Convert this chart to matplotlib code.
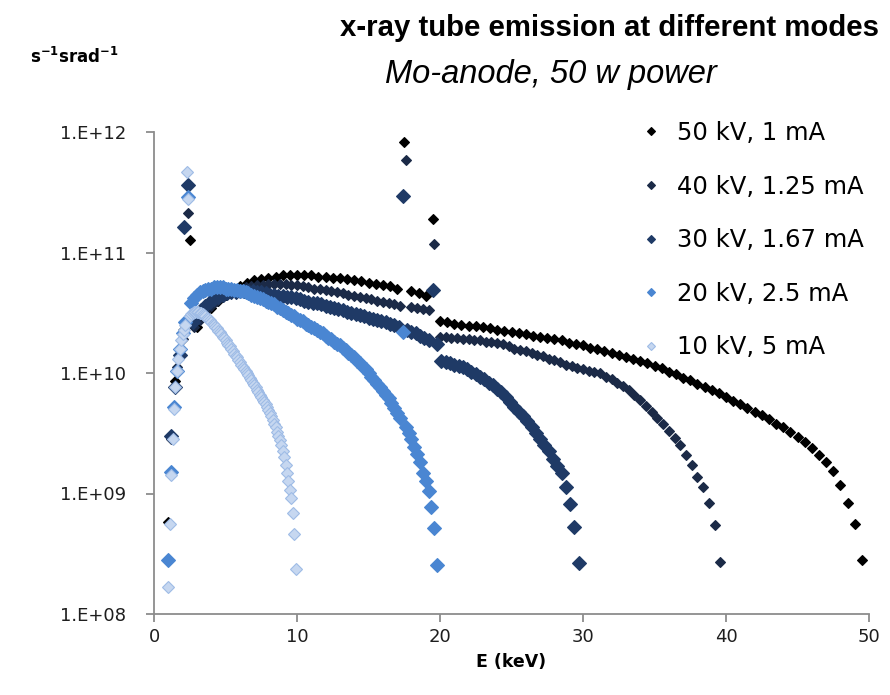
import numpy as np
import matplotlib
matplotlib.use("Agg")
import matplotlib.pyplot as plt
from matplotlib.ticker import NullLocator

## series: energy grid start/step (keV) and log10 intensity
labels = ["50 kV, 1 mA", "40 kV, 1.25 mA", "30 kV, 1.67 mA", "20 kV, 2.5 mA", "10 kV, 5 mA"]
e_start = [1.0, 1.2, 1.2, 1.0, 1.0]
e_step = [0.5, 0.4, 0.3, 0.2, 0.1]

log_i_50 = [8.76, 9.93, 10.36, 11.10, 10.38, 10.47, 10.54, 10.60, 10.65, 10.69,
            10.72, 10.75, 10.77, 10.78, 10.79, 10.80, 10.81, 10.81, 10.81, 10.81,
            10.81, 10.80, 10.80, 10.79, 10.79, 10.78, 10.77, 10.76, 10.75, 10.74,
            10.73, 10.72, 10.70, 11.92, 10.68, 10.66, 10.64, 11.28,
            10.43, 10.42, 10.41, 10.40, 10.39, 10.39, 10.38, 10.37, 10.36, 10.35,
            10.34, 10.33, 10.32, 10.31, 10.30, 10.29, 10.28, 10.27, 10.25, 10.24,
            10.23, 10.21, 10.20, 10.18, 10.17, 10.15, 10.13, 10.12, 10.10, 10.08,
            10.06, 10.04, 10.01, 9.99, 9.96, 9.94, 9.91, 9.88, 9.86, 9.83,
            9.80, 9.77, 9.74, 9.71, 9.68, 9.65, 9.62, 9.58, 9.55, 9.51,
            9.47, 9.43, 9.38, 9.32, 9.26, 9.19, 9.07, 8.92, 8.75, 8.45]

log_i_40 = [9.45, 10.05, 10.28, 11.33, 10.38, 10.44, 10.51, 10.56, 10.60, 10.63,
            10.66, 10.68, 10.70, 10.71, 10.72, 10.73, 10.73, 10.74, 10.74, 10.74,
            10.74, 10.73, 10.73, 10.72, 10.71, 10.70, 10.70, 10.69, 10.68, 10.67,
            10.66, 10.65, 10.64, 10.63, 10.62, 10.61, 10.60, 10.59, 10.58, 10.57,
            10.56, 11.77, 10.55, 10.54, 10.53, 10.52, 11.07, 10.30, 10.30, 10.29,
            10.29, 10.28, 10.28, 10.27, 10.27, 10.26, 10.26, 10.25, 10.24, 10.22,
            10.20, 10.19, 10.18, 10.17, 10.15, 10.14, 10.12, 10.11, 10.09, 10.07,
            10.06, 10.04, 10.03, 10.02, 10.01, 10.00, 9.97, 9.95, 9.92, 9.89,
            9.86, 9.82, 9.78, 9.73, 9.68, 9.63, 9.58, 9.52, 9.46, 9.40,
            9.32, 9.24, 9.14, 9.05, 8.92, 8.74, 8.43]

log_i_30 = [9.48, 9.88, 10.15, 11.21, 11.56, 10.42, 10.48, 10.52, 10.56, 10.59,
            10.61, 10.63, 10.65, 10.66, 10.67, 10.67, 10.68, 10.68, 10.68, 10.68,
            10.67, 10.67, 10.66, 10.65, 10.65, 10.64, 10.64, 10.63, 10.63, 10.62,
            10.61, 10.60, 10.59, 10.58, 10.58, 10.57, 10.56, 10.55, 10.54, 10.53,
            10.52, 10.51, 10.50, 10.49, 10.48, 10.47, 10.46, 10.45, 10.44, 10.43,
            10.42, 10.41, 10.40, 10.38, 11.47, 10.36, 10.34, 10.33, 10.31, 10.29,
            10.27, 10.69, 10.24, 10.10, 10.09, 10.08, 10.07, 10.06, 10.05, 10.03,
            10.01, 9.99, 9.97, 9.95, 9.92, 9.90, 9.87, 9.84, 9.80, 9.76,
            9.72, 9.68, 9.64, 9.60, 9.55, 9.50, 9.45, 9.40, 9.35, 9.29,
            9.23, 9.17, 9.05, 8.91, 8.72, 8.42]

log_i_20 = [8.45, 9.18, 9.72, 10.02, 10.20, 10.33, 10.42, 11.46, 10.58, 10.62,
            10.65, 10.67, 10.68, 10.69, 10.70, 10.70, 10.71, 10.71, 10.71, 10.71,
            10.70, 10.70, 10.70, 10.69, 10.69, 10.68, 10.68, 10.67, 10.66, 10.65,
            10.64, 10.63, 10.62, 10.61, 10.60, 10.59, 10.58, 10.57, 10.55, 10.54,
            10.52, 10.51, 10.50, 10.48, 10.47, 10.45, 10.44, 10.43, 10.41, 10.40,
            10.38, 10.37, 10.36, 10.34, 10.33, 10.31, 10.29, 10.28, 10.26, 10.24,
            10.23, 10.21, 10.19, 10.17, 10.15, 10.13, 10.10, 10.08, 10.05, 10.03,
            10.00, 9.97, 9.94, 9.91, 9.88, 9.85, 9.82, 9.79, 9.75, 9.71,
            9.67, 9.63, 10.34, 9.55, 9.50, 9.45, 9.39, 9.33, 9.26, 9.17,
            9.10, 9.02, 8.89, 8.71, 8.41]

log_i_10 = [8.22, 8.75, 9.15, 9.45, 9.70, 9.88, 10.02, 10.12, 10.20, 10.27,
            10.32, 10.36, 10.40, 11.67, 11.44, 10.47, 10.49, 10.50, 10.51, 10.51,
            10.51, 10.51, 10.50, 10.50, 10.49, 10.48, 10.47, 10.46, 10.45, 10.44,
            10.42, 10.41, 10.40, 10.38, 10.37, 10.35, 10.34, 10.32, 10.30, 10.29,
            10.27, 10.25, 10.23, 10.22, 10.20, 10.18, 10.16, 10.14, 10.13, 10.11,
            10.09, 10.07, 10.05, 10.03, 10.02, 10.00, 9.98, 9.96, 9.94, 9.92,
            9.90, 9.88, 9.86, 9.84, 9.82, 9.80, 9.78, 9.76, 9.74, 9.72,
            9.69, 9.67, 9.64, 9.61, 9.58, 9.55, 9.51, 9.48, 9.44, 9.40,
            9.35, 9.30, 9.24, 9.17, 9.10, 9.03, 8.96, 8.84, 8.66, 8.37]

y_ticks = [1e8, 1e9, 1e10, 1e11, 1e12]
y_ticklabels = ["1.E+08", "1.E+09", "1.E+10", "1.E+11", "1.E+12"]
x_ticks = [0, 10, 20, 30, 40, 50]

series = [log_i_50, log_i_40, log_i_30, log_i_20, log_i_10]
face = ["#000000", "#1B2A47", "#1F3A66", "#4A86D2", "#C6D7F0"]
edge = ["#000000", "#1B2A47", "#1F3A66", "#4A86D2", "#9FBCE6"]
msize = [4.8, 5.0, 7.2, 7.5, 6.0]

fig = plt.figure(figsize=(8.9, 6.95), dpi=100)
ax = fig.add_axes([154/890, 1 - 614/695, (869 - 154)/890, (614 - 132)/695])

for k, vals in enumerate(series):
    ee = e_start[k] + e_step[k]*np.arange(len(vals))
    ax.plot(ee, 10**np.array(vals), linestyle="none", marker="D",
            markersize=msize[k], markerfacecolor=face[k], markeredgecolor=edge[k],
            markeredgewidth=0.8, label=labels[k])

ax.set_yscale("log")
ax.set_xlim(0, 50)
ax.set_ylim(1e8, 1e12)
ax.set_yticks(y_ticks)
ax.set_yticklabels(y_ticklabels)
ax.yaxis.set_minor_locator(NullLocator())
ax.set_xticks(x_ticks)
for s in ["top", "right"]:
    ax.spines[s].set_visible(False)
for s in ["left", "bottom"]:
    ax.spines[s].set_color("#8C8C8C")
    ax.spines[s].set_linewidth(1.3)
ax.tick_params(direction="out", length=6, width=1.3, color="#8C8C8C",
               labelcolor="#1E1E1E", labelsize=13)
ax.tick_params(axis="y", pad=14)
ax.tick_params(axis="x", pad=4)
ax.set_xlabel("E (keV)", fontsize=12.5, fontweight="bold", labelpad=5)

leg = ax.legend(loc="upper left", bbox_to_anchor=(619/890, 1 - 99/695),
                bbox_transform=fig.transFigure, frameon=False, handlelength=0.8,
                handletextpad=0.7, labelspacing=1.22, prop={"size": 17.5})
for h in leg.legend_handles:
    h.set_markersize(3.8)

fig.text(609/890, 1 - 28/695, "x-ray tube emission at different modes",
         ha="center", va="center", fontsize=21.2, fontweight="bold", family="Liberation Sans")
fig.text(385/890, 1 - 75/695, "Mo-anode, 50 w power", ha="left", va="center",
         fontsize=23.5, style="italic", family="Liberation Sans")
fig.text(30/890, 1 - 57/695, r"$\mathbf{s^{-1}srad^{-1}}$", ha="left", va="center",
         fontsize=12)

fig.savefig("out.png", dpi=100)
